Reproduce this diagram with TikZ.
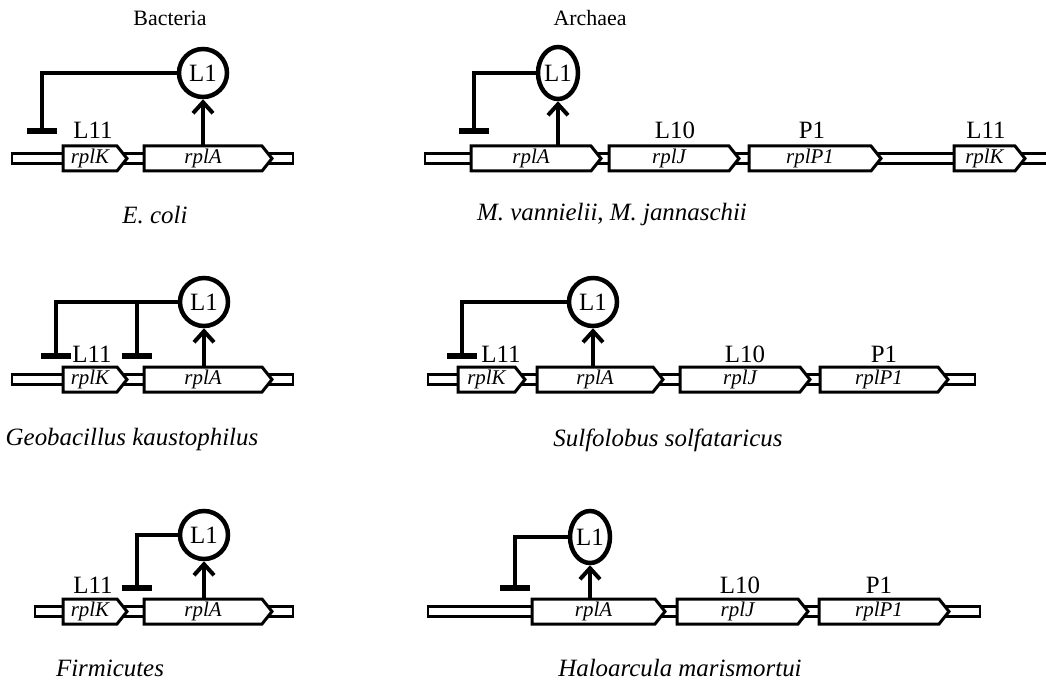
\documentclass[tikz,border=0pt]{standalone}
\usepackage{fontspec}
\setmainfont{Liberation Serif}
\usetikzlibrary{arrows.meta,shapes.geometric}
\tikzset{
 band/.style={draw=black,fill=white,line width=2.8bp},
 genebody/.style={draw=black,fill=white,line width=3bp,line join=miter},
 genetxt/.style={font=\fontsize{21}{21}\selectfont\itshape,inner sep=0pt,minimum height=25bp},
 prot/.style={circle,draw,line width=4.5bp,inner sep=0pt,minimum size=48bp,font=\fontsize{25}{25}\selectfont},
 protell/.style={ellipse,draw,line width=4.5bp,inner sep=0pt,minimum width=40bp,minimum height=52bp,font=\fontsize{25}{25}\selectfont},
 lab/.style={font=\fontsize{25}{25}\selectfont,inner sep=0pt},
 species/.style={font=\fontsize{25}{25}\selectfont\itshape,inner sep=0pt},
 ttl/.style={font=\fontsize{22}{22}\selectfont,inner sep=0pt},
 act/.style={line width=4bp,-{Straight Barb[length=11bp,width=20bp]}},
 rep/.style={line width=4.5bp},
 tbar/.style={line width=6bp},
}
\newcommand\gene[5]{%
 \pgfmathsetmacro\gA{#2}\pgfmathsetmacro\gB{#3-10}%
 \pgfmathsetmacro\gT{#4-12.5}\pgfmathsetmacro\gD{#4+12.5}%
 \pgfmathsetmacro\gM{(#2+#3-10)/2}\pgfmathsetmacro\gW{#3-10-#2}%
 \path[genebody] (\gA,\gT) -- (\gB,\gT) -- (#3,#4) -- (\gB,\gD) -- (\gA,\gD) -- cycle;
 \node[genetxt,minimum width=\gW bp] (#1) at (\gM,#4) {#5};}
\newcommand\tbarat[1]{\draw[tbar] ([xshift=-15bp]#1) -- ([xshift=15bp]#1);}
\begin{document}
\begin{tikzpicture}[x=1bp,y=-1bp]
\useasboundingbox[fill=white] (0,0) rectangle (1046,686);
% titles
\node[ttl] (tb) at (170,18) {Bacteria};
\node[ttl] (ta) at (590,18) {Archaea};

% ===== Bacteria row 1: E. coli =====
\draw[band] (12,153.5) rectangle (293,163.5);
\gene{bK1}{63}{127}{158.5}{rplK}
\gene{bA1}{144}{272}{158.5}{rplA}
\node[lab] (bL11a) at (93,130) {L11};
\node[prot] (bL1a) at (203,73) {L1};
\coordinate (tb1) at (42,131);
\draw[act] (bA1.north -| bL1a.south) -- (bL1a.south);
\draw[rep] (bL1a.west) -| (tb1);
\tbarat{tb1}
\node[species] (sp1) at (155,215) {E. coli};

% ===== Bacteria row 2: Geobacillus =====
\draw[band] (12,374.5) rectangle (293,384.5);
\gene{bK2}{63}{127}{379.5}{rplK}
\gene{bA2}{144}{272}{379.5}{rplA}
\node[lab] (bL11b) at (92,354) {L11};
\node[prot] (bL1b) at (204,302) {L1};
\coordinate (tb2) at (56,356);
\coordinate (tb3) at (137,356);
\draw[act] (bA2.north -| bL1b.south) -- (bL1b.south);
\draw[rep] (bL1b.west) -| (tb2);
\draw[rep] (bL1b.west -| tb3) -- (tb3);
\tbarat{tb2}
\tbarat{tb3}
\node[species] (sp2) at (132,440) {Geobacillus kaustophilus};

% ===== Bacteria row 3: Firmicutes =====
\draw[band] (35,606.5) rectangle (293,616.5);
\gene{bK3}{63}{127}{611.5}{rplK}
\gene{bA3}{144}{272}{611.5}{rplA}
\node[lab] (bL11c) at (93,585) {L11};
\node[prot] (bL1c) at (204,535) {L1};
\coordinate (tb4) at (137,588);
\draw[act] (bA3.north -| bL1c.south) -- (bL1c.south);
\draw[rep] (bL1c.west) -| (tb4);
\tbarat{tb4}
\node[species] (sp3) at (110,668) {Firmicutes};

% ===== Archaea row 1 =====
\draw[band] (425,153.5) rectangle (1060,163.5);
\gene{aA1}{471}{601}{158.5}{rplA}
\gene{aJ1}{609}{739}{158.5}{rplJ}
\gene{aP1}{749}{881}{158.5}{rplP1}
\gene{aK1}{954}{1025}{158.5}{rplK}
\node[lab] (aL10a) at (675,130) {L10};
\node[lab] (aP1a) at (812,130) {P1};
\node[lab] (aL11a) at (986,130) {L11};
\node[protell] (aL1a) at (558,73) {L1};
\coordinate (ta1) at (474,131);
\draw[act] (aA1.north -| aL1a.south) -- (aL1a.south);
\draw[rep] (aL1a.west) -| (ta1);
\tbarat{ta1}
\node[species] (sp4) at (612,215) {\textit{M. vannielii}\upshape, \textit{M. jannaschii}};

% ===== Archaea row 2: Sulfolobus =====
\draw[band] (428,374.5) rectangle (975,384.5);
\gene{aK2}{458}{525}{379.5}{rplK}
\gene{aA2}{537}{663}{379.5}{rplA}
\gene{aJ2}{680}{810}{379.5}{rplJ}
\gene{aP2}{820}{948}{379.5}{rplP1}
\node[lab] (aL11b) at (501,354) {L11};
\node[lab] (aL10b) at (745,354) {L10};
\node[lab] (aP1b) at (884,354) {P1};
\node[prot] (aL1b) at (593,302) {L1};
\coordinate (ta2) at (462,356);
\draw[act] (aA2.north -| aL1b.south) -- (aL1b.south);
\draw[rep] (aL1b.west) -| (ta2);
\tbarat{ta2}
\node[species] (sp5) at (668,440) {Sulfolobus solfataricus};

% ===== Archaea row 3: Haloarcula =====
\draw[band] (428,606.5) rectangle (980,616.5);
\gene{aA3}{532}{665}{611.5}{rplA}
\gene{aJ3}{677}{808}{611.5}{rplJ}
\gene{aP3}{819}{949}{611.5}{rplP1}
\node[lab] (aL10c) at (740,585) {L10};
\node[lab] (aP1c) at (879,585) {P1};
\node[protell] (aL1c) at (590,537) {L1};
\coordinate (ta3) at (515,588);
\draw[act] (aA3.north -| aL1c.south) -- (aL1c.south);
\draw[rep] (aL1c.west) -| (ta3);
\tbarat{ta3}
\node[species] (sp6) at (680,668) {Haloarcula marismortui};
\end{tikzpicture}
\end{document}
